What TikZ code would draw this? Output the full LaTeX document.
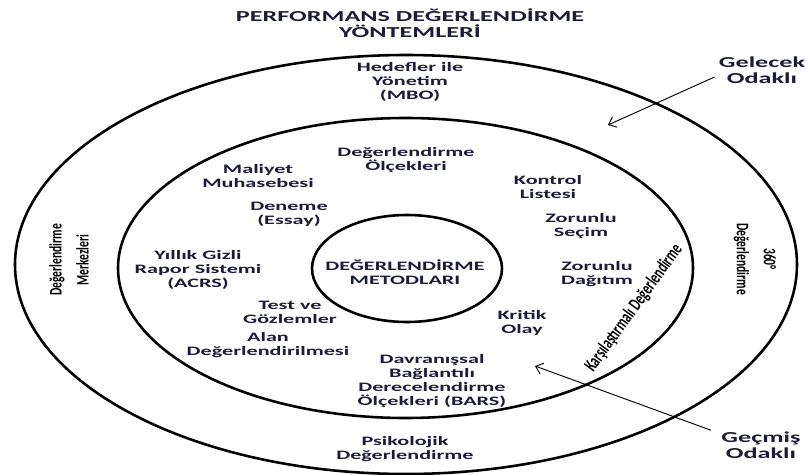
\documentclass[tikz,border=0pt]{standalone}
\usepackage{fontspec}
\setmainfont{Carlito}
\newfontfamily\lblfont[FakeStretch=1.72]{Carlito}
\newfontfamily\sidefont[FakeStretch=0.66]{Carlito}
\usetikzlibrary{arrows.meta}
\definecolor{lblcol}{HTML}{1B1B3A}

\begin{document}
\begin{tikzpicture}[x=0.03cm, y=-0.03cm,
    ring/.style={line width=2.2pt},
    lbl/.style={align=center, inner sep=1pt, text=lblcol, font=\lblfont\bfseries\fontsize{11}{12}\selectfont},
    big/.style={lbl, font=\lblfont\bfseries\fontsize{13}{13.5}\selectfont},
    side/.style={align=center, inner sep=1pt, font=\sidefont\bfseries\fontsize{15}{23}\selectfont},
    arr/.style={line width=0.8pt, -{Straight Barb[length=2mm, width=3.4mm]}}]
    \useasboundingbox (0,0) rectangle (807,475);
    \draw[ring] (406,264.5) ellipse [x radius=391, y radius=209.5];
    \draw[ring] (405.5,268) ellipse [x radius=287.5, y radius=150];
    \draw[ring] (407,268.5) ellipse [x radius=95, y radius=53.5];
    \node[big] (title) at (410,23) {PERFORMANS DEĞERLENDİRME\\YÖNTEMLERİ};
    \node[lbl] (mbo) at (410,82) {Hedefler ile\\Yönetim\\(MBO)};
    \node[lbl] (olcek) at (406,160) {Değerlendirme\\Ölçekleri};
    \node[lbl] (maliyet) at (258,176) {Maliyet\\Muhasebesi};
    \node[lbl] (kontrol) at (548,187) {Kontrol\\Listesi};
    \node[lbl] (deneme) at (289,214) {Deneme\\(Essay)};
    \node[lbl] (secim) at (581,226) {Zorunlu\\Seçim};
    \node[lbl] (acrs) at (198,270) {Yıllık Gizli\\Rapor Sistemi\\(ACRS)};
    \node[lbl] (metod) at (405,272) {DEĞERLENDİRME\\METODLARI};
    \node[lbl] (dagitim) at (597,274) {Zorunlu\\Dağıtım};
    \node[lbl] (test) at (290,312) {Test ve\\Gözlemler};
    \node[lbl] (kritik) at (522,323) {Kritik\\Olay};
    \node[lbl] (alan) at (268,345) {Alan\\Değerlendirilmesi};
    \node[lbl] (bars) at (432,381) {Davranışsal\\Bağlantılı\\Derecelendirme\\Ölçekleri (BARS)};
    \node[lbl] (psiko) at (405,449) {Psikolojik\\Değerlendirme};
    \node[big] (gelecek) at (762,70) {Gelecek\\Odaklı};
    \node[big] (gecmis) at (761,445) {Geçmiş\\Odaklı};
    \node[side, rotate=90] (merkez) at (69,260) {Değerlendirme\\Merkezleri};
    \node[side, rotate=-90] (derece) at (755,259) {360°\\Değerlendirme};
    \node[side, font=\sidefont\bfseries\fontsize{16}{16}\selectfont, rotate=54] (karsi) at (634,308) {Karşılaştırmalı Değerlendirme};
    \coordinate (gelecekTip) at (608,125);
    \coordinate (gecmisTip) at (535,366);
    \draw[arr] ([shift={(-3,7)}]gelecek.west) -- (gelecekTip);
    \draw[arr] ([shift={(-9,0)}]gecmis.north west) -- (gecmisTip);
\end{tikzpicture}
\end{document}
